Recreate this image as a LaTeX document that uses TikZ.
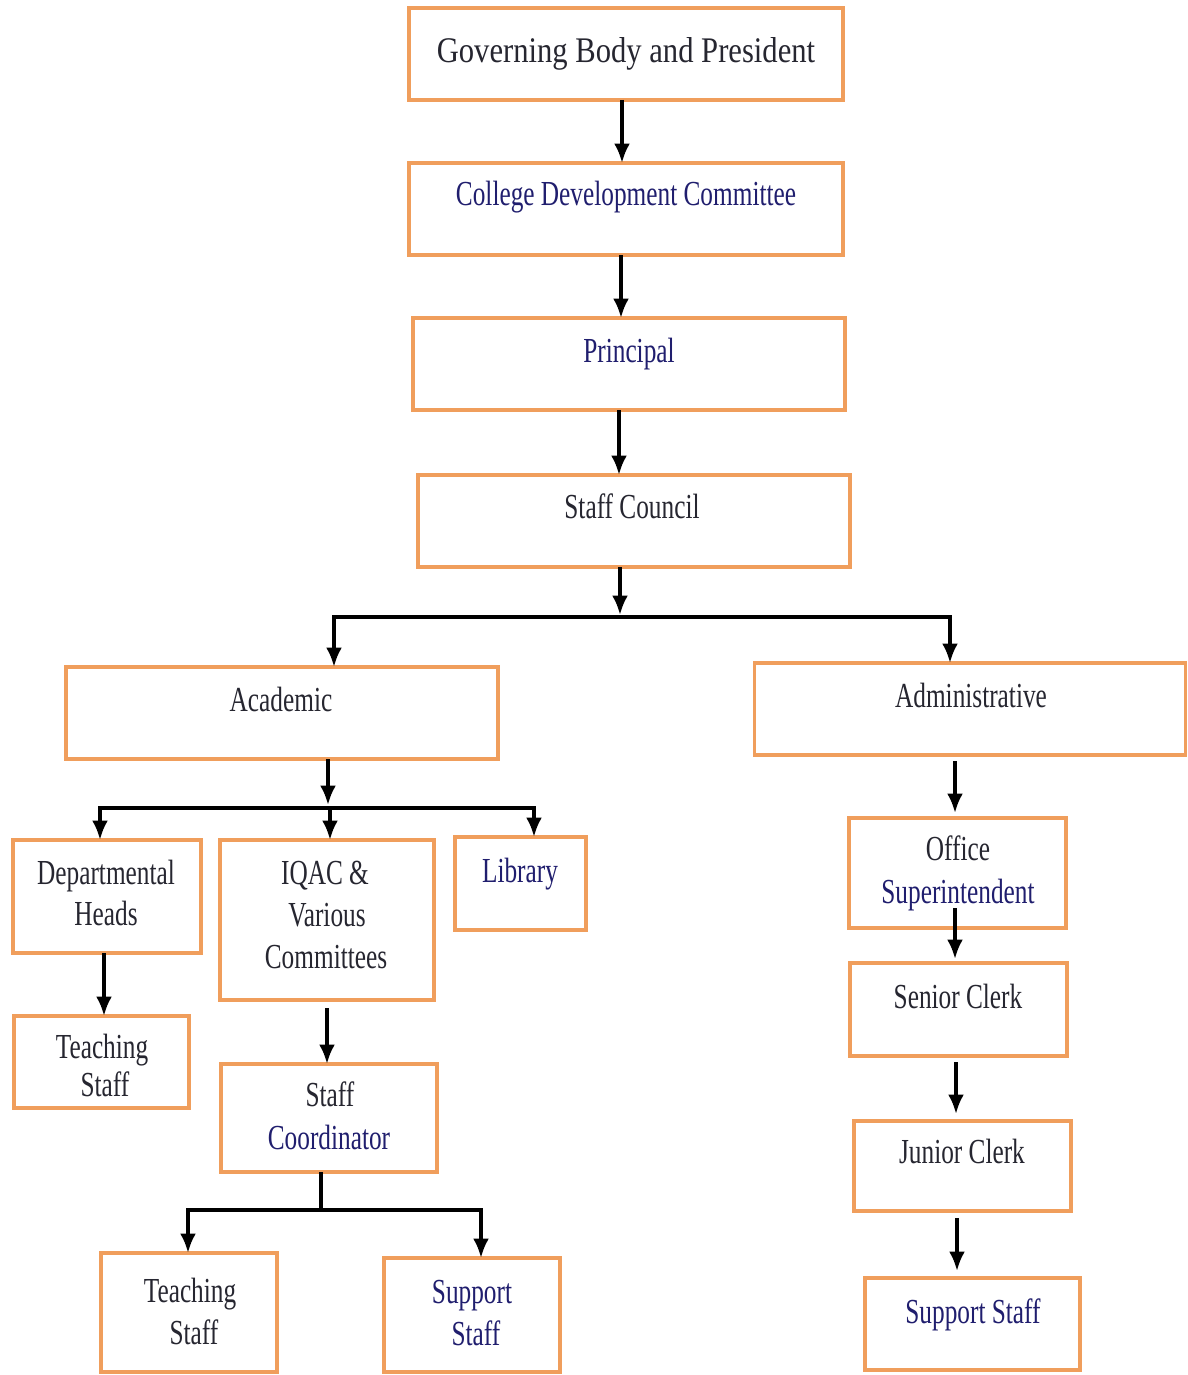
\documentclass[tikz,border=0pt]{standalone}
\usepackage{fontspec}
\setmainfont{Liberation Serif}[FakeStretch=0.72]
\newfontfamily\gbfont{Liberation Serif}[FakeStretch=0.85]
\usetikzlibrary{arrows.meta,calc}
\definecolor{boxorange}{RGB}{240,158,92}
\definecolor{navy}{RGB}{32,30,110}
\definecolor{ink}{RGB}{38,38,48}
\tikzset{
  box/.style={draw=boxorange, line width=1.8pt, fill=none, inner sep=0pt, outer sep=0pt},
  txt/.style={inner sep=0pt, anchor=base, text=ink, font=\fontsize{20}{24}\selectfont},
  blue/.style={text=navy},
  conn/.style={line width=2pt, draw=black},
  arr/.style={conn, -{Latex[length=11pt,width=9pt]}},
}
\newcommand{\bx}[5]{\node[box, minimum width=#4*0.02cm, minimum height=#5*0.02cm] (#1) at (#2,#3) {};}
\begin{document}
\begin{tikzpicture}[x=0.02cm,y=-0.02cm]
\fill[white] (0,0) rectangle (1187,1375);
\path[use as bounding box] (0,0) rectangle (1187,1375);

% boxes
\bx{gb}{626}{54}{434}{92}
\bx{cdc}{626}{209}{434}{92}
\bx{pr}{629}{364}{432}{92}
\bx{sc}{634}{521}{432}{92}
\bx{ac}{282}{713}{432}{92}
\bx{ad}{970}{709}{431}{92}
\bx{dh}{107}{896.5}{188}{113}
\bx{iq}{327}{920}{214}{160}
\bx{lib}{520.5}{883.5}{131}{93}
\bx{tsa}{101.5}{1062}{175}{92}
\bx{co}{329}{1118}{216}{108}
\bx{tsb}{189}{1312.5}{176}{119}
\bx{ssa}{472}{1315}{176}{114}
\bx{os}{957.5}{873}{217}{110}
\bx{sr}{958.5}{1009.5}{217}{93}
\bx{jr}{962.5}{1166}{217}{90}
\bx{ssb}{972.5}{1324}{215}{92}

% texts
\node[txt, font=\gbfont\fontsize{20.5}{24}\selectfont] (gb-t) at (626,63) {Governing Body and President};
\node[txt, blue] (cdc-t) at (626,206) {College Development Committee};
\node[txt, blue] (pr-t) at (629,362) {Principal};
\node[txt] (sc-t) at (632,518) {Staff Council};
\node[txt] (ac-t) at (281,711) {Academic};
\node[txt] (ad-t) at (971,707) {Administrative};
\node[txt] (dh-t1) at (106,884) {Departmental};
\node[txt] (dh-t2) at (106,925) {Heads};
\node[txt] (iq-t1) at (325,884) {IQAC \&};
\node[txt] (iq-t2) at (327,926) {Various};
\node[txt] (iq-t3) at (326,968) {Committees};
\node[txt, blue] (lib-t) at (520,882) {Library};
\node[txt] (tsa-t1) at (102,1058) {Teaching};
\node[txt] (tsa-t2) at (105,1096) {Staff};
\node[txt] (co-t1) at (330,1106) {Staff};
\node[txt, blue] (co-t2) at (329,1149) {Coordinator};
\node[txt] (tsb-t1) at (190,1302) {Teaching};
\node[txt] (tsb-t2) at (194,1344) {Staff};
\node[txt, blue] (ssa-t1) at (472,1303) {Support};
\node[txt, blue] (ssa-t2) at (476,1345) {Staff};
\node[txt] (os-t1) at (958,860) {Office};
\node[txt, blue] (os-t2) at (958,903) {Superintendent};
\node[txt] (sr-t) at (958,1008) {Senior Clerk};
\node[txt] (jr-t) at (962,1163) {Junior Clerk};
\node[txt, blue] (ssb-t) at (973,1323) {Support Staff};

% main chain
\coordinate (x1) at (622,0);
\coordinate (x2) at (621,0);
\coordinate (x3) at (619,0);
\draw[arr] (gb.south -| x1) -- (cdc.north -| x1);
\draw[arr] (cdc.south -| x2) -- (pr.north -| x2);
\draw[arr] (pr.south -| x3) -- (sc.north -| x3);
% staff council branch
\coordinate (j1) at (620,617);
\coordinate (aL) at (334,617);
\coordinate (aR) at (950,617);
\draw[arr] (sc.south -| j1) -- ($(j1)+(0,-2)$);
\draw[conn, line cap=rect] (aL) -- (aR);
\draw[arr] (aL) -- (aL |- ac.north);
\draw[arr] (aR) -- (aR |- ad.north);
% academic branch
\coordinate (j2) at (328,808);
\coordinate (bL) at (100,808);
\coordinate (bM) at (330,808);
\coordinate (bR) at (534,808);
\draw[arr] (ac.south -| j2) -- ($(j2)+(0,-3)$);
\draw[conn, line cap=rect] (bL) -- (bR);
\draw[arr] (bL) -- (bL |- dh.north);
\draw[arr] (bM) -- (bM |- iq.north);
\draw[arr] (bR) -- (bR |- lib.north);
% left sub-chains
\coordinate (x4) at (104,0);
\draw[arr] (dh.south -| x4) -- (tsa.north -| x4);
\draw[arr] ($(iq.south)+(0,8)$) -- (iq.south |- co.north);
\coordinate (j3) at (321,1210);
\coordinate (cL) at (188,1210);
\coordinate (cR) at (481,1210);
\draw[conn] (co.south -| j3) -- (j3);
\draw[conn, line cap=rect] (cL) -- (cR);
\draw[arr] (cL) -- (cL |- tsb.north);
\draw[arr] (cR) -- (cR |- ssa.north);
% administrative chain
\coordinate (xa) at (955,0);
\draw[arr] ($(ad.south -| xa)+(0,6)$) -- ($(os.north -| xa)+(0,-5)$);
\draw[arr] ($(os.south -| xa)+(0,-20)$) -- ($(sr.north -| xa)+(0,-4)$);
\draw[arr] ($(sr.south -| xa)+(1,6)$) -- ($(jr.north -| xa)+(1,-7)$);
\draw[arr] ($(jr.south -| xa)+(2,7)$) -- ($(ssb.north -| xa)+(2,-7)$);
\end{tikzpicture}
\end{document}
